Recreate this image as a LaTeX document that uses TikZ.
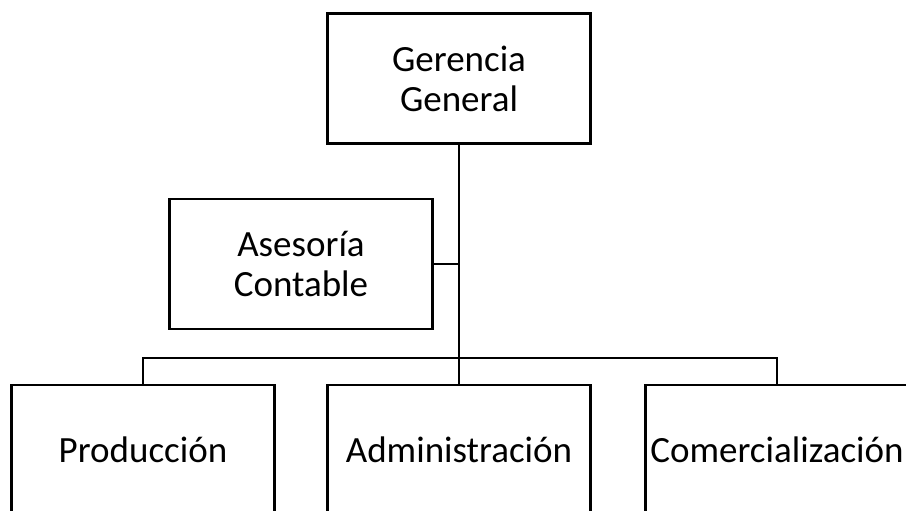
\documentclass[tikz,border=0pt]{standalone}
\usepackage{fontspec}
\setmainfont{Carlito}
\usetikzlibrary{positioning}

\begin{document}
\begin{tikzpicture}[
    x=1pt, y=-1pt,
    box/.style = {rectangle, draw=black, line width=2.4pt, minimum width=263pt,
                  minimum height=130pt, inner sep=0pt, text centered, align=center,
                  font=\fontsize{37}{40}\selectfont},
    trunk/.style = {line width=2.8pt},
    branch/.style = {line width=1.8pt}
]

    % Page frame
    \useasboundingbox (0,0) rectangle (906,511);
    \clip (0,0) rectangle (906,511);

    % Top
    \node[box] (gerencia) at (459,78.5) {Gerencia\\General};

    % Staff
    \node[box] (asesoria) at (301,264) {Asesoría\\Contable};

    % Departments
    \node[box] (produccion) at (143,450) {Producción};
    \node[box] (administracion) at (459,450) {Administración};
    \node[box] (comercial) at (777,450) {Comercialización};

    \coordinate (bus) at (459,358);

    % Lines
    \draw[trunk] (gerencia.south) -- (bus);
    \draw[branch] (asesoria.east) -- (asesoria.east -| gerencia.south);
    \draw[branch] (produccion.north) -- (produccion.north |- bus) -- (comercial.north |- bus) -- (comercial.north);
    \draw[branch] (bus) -- (administracion.north);

\end{tikzpicture}
\end{document}
